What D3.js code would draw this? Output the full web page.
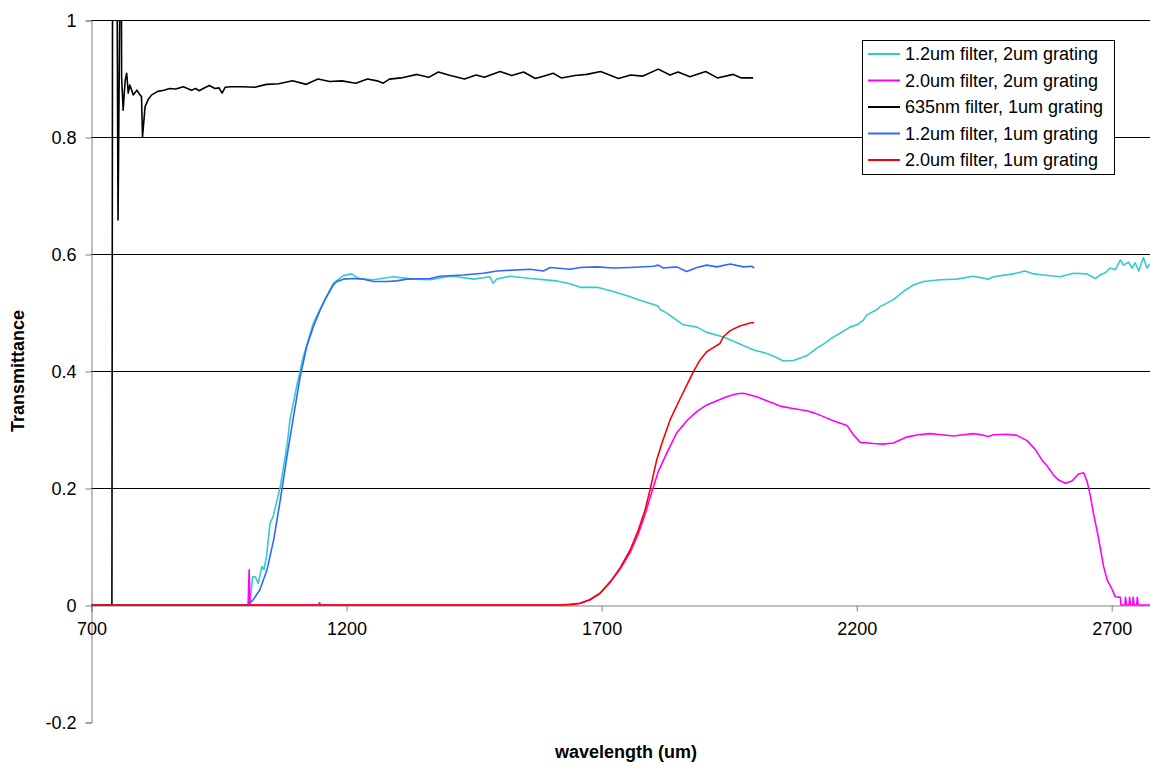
<!DOCTYPE html>
<html>
<head>
<meta charset="utf-8">
<script src="https://cdn.jsdelivr.net/npm/d3@7"></script>
<style>
  html, body { margin: 0; padding: 0; background: #fff; }
  svg { display: block; font-family: "Liberation Sans", Arial, sans-serif; }
</style>
</head>
<body>
<svg id="chart" width="1150" height="763"></svg>
<script>
// ---------- DATA ----------
const xTicks = [700, 1200, 1700, 2200, 2700];
const yTicks = [-0.2, 0, 0.2, 0.4, 0.6, 0.8, 1];
const yTickLabels = ["-0.2", "0", "0.2", "0.4", "0.6", "0.8", "1"];
const yGrid = [0.2, 0.4, 0.6, 0.8, 1];

const seriesNames = [
  "1.2um filter, 2um grating",
  "2.0um filter, 2um grating",
  "635nm filter, 1um grating",
  "1.2um filter, 1um grating",
  "2.0um filter, 1um grating"
];
const seriesColors = ["#33CCCC", "#FF00FF", "#000000", "#3366FF", "#FF0000"];

// 1.2um filter, 2um grating (cyan)
const cyanWl = [700, 1011, 1017, 1022, 1028, 1035, 1039, 1044, 1051, 1057, 1071, 1084, 1090, 1103, 1116, 1136, 1155, 1175, 1195, 1211, 1221, 1227, 1253, 1293, 1332, 1365, 1404, 1417, 1450, 1482, 1488, 1495, 1522, 1561, 1613, 1639, 1659, 1692, 1724, 1757, 1776, 1812, 1816, 1829, 1861, 1888, 1907, 1940, 1972, 1999, 2025, 2044, 2057, 2077, 2103, 2123, 2136, 2155, 2169, 2188, 2204, 2214, 2221, 2241, 2247, 2273, 2293, 2312, 2332, 2365, 2397, 2430, 2459, 2469, 2508, 2531, 2548, 2567, 2600, 2626, 2652, 2669, 2678, 2688, 2698, 2708, 2718, 2724, 2734, 2741, 2747, 2754, 2763, 2770, 2776];
const cyanT  = [0, 0, 0.048, 0.048, 0.037, 0.066, 0.060, 0.083, 0.140, 0.151, 0.202, 0.271, 0.316, 0.373, 0.424, 0.482, 0.516, 0.550, 0.563, 0.566, 0.560, 0.558, 0.556, 0.561, 0.557, 0.556, 0.562, 0.561, 0.557, 0.561, 0.550, 0.557, 0.562, 0.558, 0.554, 0.549, 0.543, 0.543, 0.536, 0.527, 0.521, 0.511, 0.505, 0.499, 0.479, 0.475, 0.466, 0.458, 0.446, 0.436, 0.430, 0.423, 0.417, 0.418, 0.426, 0.439, 0.446, 0.458, 0.465, 0.475, 0.480, 0.487, 0.496, 0.505, 0.510, 0.522, 0.536, 0.547, 0.553, 0.556, 0.557, 0.562, 0.557, 0.561, 0.566, 0.571, 0.566, 0.564, 0.561, 0.567, 0.566, 0.558, 0.564, 0.568, 0.576, 0.573, 0.590, 0.581, 0.586, 0.576, 0.585, 0.571, 0.594, 0.576, 0.583];

// 2.0um filter, 2um grating (magenta)
const magentaWl = [700, 1008, 1010, 1012, 1146, 1148, 1150, 1620, 1649, 1659, 1678, 1698, 1718, 1737, 1757, 1773, 1786, 1799, 1812, 1829, 1848, 1868, 1888, 1907, 1927, 1946, 1966, 1979, 2005, 2031, 2051, 2076, 2103, 2119, 2136, 2155, 2182, 2194, 2208, 2234, 2253, 2273, 2299, 2322, 2345, 2367, 2391, 2410, 2430, 2445, 2459, 2469, 2495, 2515, 2535, 2551, 2564, 2574, 2587, 2596, 2610, 2623, 2636, 2646, 2653, 2659, 2665, 2672, 2678, 2685, 2692, 2701, 2708, 2718, 2719, 2727, 2728, 2730, 2735, 2736, 2738, 2742, 2743, 2745, 2750, 2751, 2753, 2776];
const magentaT  = [0, 0, 0.060, 0, 0, 0.004, 0, 0, 0.001, 0.003, 0.009, 0.020, 0.039, 0.061, 0.090, 0.122, 0.155, 0.192, 0.228, 0.260, 0.294, 0.315, 0.331, 0.342, 0.349, 0.356, 0.361, 0.362, 0.356, 0.347, 0.340, 0.336, 0.332, 0.328, 0.322, 0.315, 0.307, 0.292, 0.278, 0.276, 0.275, 0.277, 0.287, 0.291, 0.293, 0.291, 0.289, 0.291, 0.293, 0.291, 0.288, 0.291, 0.292, 0.290, 0.281, 0.266, 0.248, 0.238, 0.222, 0.214, 0.208, 0.212, 0.224, 0.226, 0.210, 0.187, 0.157, 0.128, 0.100, 0.066, 0.043, 0.028, 0.014, 0.013, 0, 0, 0.013, 0, 0, 0.013, 0, 0, 0.013, 0, 0, 0.013, 0, 0];

// 635nm filter, 1um grating (black)
const blackWl = [700, 741, 742.5, 750, 753, 759, 760, 763, 767, 770, 773, 776, 783, 790, 796, 799, 801, 806, 812, 819, 831, 843, 854, 866, 874, 881, 889, 897, 905, 912, 920, 932, 943, 951, 957, 963, 974, 998, 1021, 1044, 1068, 1095, 1122, 1145, 1168, 1192, 1219, 1242, 1261, 1273, 1285, 1308, 1339, 1362, 1381, 1401, 1432, 1455, 1471, 1502, 1525, 1548, 1571, 1587, 1606, 1622, 1649, 1672, 1699, 1734, 1758, 1781, 1812, 1835, 1851, 1874, 1905, 1928, 1959, 1975, 1998];
const blackT  = [0, 0, 1.3, 1.3, 0.658, 1.3, 0.903, 0.846, 0.897, 0.909, 0.875, 0.889, 0.872, 0.880, 0.872, 0.869, 0.800, 0.852, 0.864, 0.872, 0.878, 0.880, 0.883, 0.882, 0.884, 0.886, 0.883, 0.880, 0.883, 0.879, 0.883, 0.888, 0.883, 0.884, 0.875, 0.885, 0.886, 0.886, 0.885, 0.890, 0.891, 0.896, 0.890, 0.899, 0.895, 0.896, 0.892, 0.899, 0.896, 0.892, 0.899, 0.901, 0.907, 0.902, 0.911, 0.906, 0.899, 0.906, 0.902, 0.912, 0.905, 0.911, 0.900, 0.904, 0.909, 0.901, 0.905, 0.907, 0.912, 0.900, 0.906, 0.904, 0.916, 0.906, 0.911, 0.903, 0.912, 0.901, 0.907, 0.901, 0.901];

// 1.2um filter, 1um grating (blue)
const blueWl = [700, 1008, 1018, 1031, 1045, 1058, 1071, 1084, 1097, 1110, 1123, 1136, 1149, 1162, 1175, 1182, 1195, 1214, 1234, 1254, 1280, 1299, 1319, 1365, 1384, 1430, 1469, 1496, 1561, 1587, 1600, 1639, 1659, 1692, 1724, 1757, 1803, 1812, 1822, 1848, 1868, 1888, 1907, 1927, 1953, 1979, 1996, 2000];
const blueT  = [0, 0, 0.009, 0.026, 0.060, 0.111, 0.179, 0.253, 0.322, 0.390, 0.442, 0.476, 0.504, 0.527, 0.547, 0.553, 0.557, 0.558, 0.557, 0.553, 0.553, 0.554, 0.557, 0.558, 0.562, 0.564, 0.567, 0.571, 0.574, 0.571, 0.577, 0.574, 0.577, 0.578, 0.576, 0.577, 0.579, 0.581, 0.576, 0.578, 0.570, 0.577, 0.581, 0.578, 0.583, 0.578, 0.579, 0.576];

// 2.0um filter, 1um grating (red)
const redWl = [700, 1620, 1639, 1659, 1678, 1698, 1718, 1737, 1757, 1773, 1786, 1796, 1803, 1809, 1819, 1835, 1855, 1868, 1881, 1894, 1907, 1920, 1933, 1940, 1953, 1972, 1992, 2000];
const redT  = [0, 0, 0.001, 0.003, 0.009, 0.020, 0.040, 0.063, 0.094, 0.128, 0.162, 0.197, 0.225, 0.248, 0.276, 0.316, 0.353, 0.376, 0.399, 0.419, 0.433, 0.440, 0.447, 0.459, 0.469, 0.477, 0.482, 0.483];

const seriesWl = [cyanWl, magentaWl, blackWl, blueWl, redWl];
const seriesT = [cyanT, magentaT, blackT, blueT, redT];

// ---------- LAYOUT ----------
const FONT = "'Liberation Sans', Arial, sans-serif";
const svg = d3.select("#chart");
const plot = { left: 91, right: 1150, top: 20, bottom: 722 };

const x = d3.scaleLinear().domain([700, 2776]).range([plot.left, plot.right]);
const y = d3.scaleLinear().domain([-0.2, 1]).range([plot.bottom, plot.top]);

svg.append("defs").append("clipPath").attr("id", "clip")
  .append("rect")
  .attr("x", plot.left).attr("y", plot.top)
  .attr("width", plot.right - plot.left).attr("height", plot.bottom - plot.top);

// gridlines
svg.append("g").selectAll("line").data(yGrid).join("line")
  .attr("x1", plot.left).attr("x2", plot.right)
  .attr("y1", d => Math.round(y(d)) + 0.5).attr("y2", d => Math.round(y(d)) + 0.5)
  .attr("stroke", "#000").attr("stroke-width", 1);

// y axis
const yAxis = d3.axisLeft(y).tickValues(yTicks)
  .tickFormat((d, i) => yTickLabels[i]).tickSize(6).tickPadding(9);
const gy = svg.append("g").attr("transform", `translate(${plot.left + 0.5},0.5)`).call(yAxis);
gy.select(".domain").attr("stroke", "#808080");
gy.selectAll(".tick line").attr("stroke", "#808080");
gy.selectAll(".tick text").attr("font-size", 18).attr("fill", "#000").attr("font-family", FONT);

// x axis at y=0
const xAxis = d3.axisBottom(x).tickValues(xTicks).tickFormat(d3.format("d")).tickSize(6).tickPadding(11);
const gx = svg.append("g").attr("transform", `translate(0.5,${Math.round(y(0)) + 0.5})`).call(xAxis);
gx.select(".domain").attr("stroke", "#808080");
gx.selectAll(".tick line").attr("stroke", "#808080");
gx.selectAll(".tick text").attr("font-size", 18).attr("fill", "#000").attr("font-family", FONT);

// series
const line = d3.line().x(d => x(d[0])).y(d => y(d[1]));
const gl = svg.append("g").attr("clip-path", "url(#clip)");
seriesWl.forEach((wl, i) => {
  const pts = wl.map((w, j) => [w, seriesT[i][j]]);
  gl.append("path").datum(pts)
    .attr("d", line)
    .attr("fill", "none")
    .attr("stroke", seriesColors[i])
    .attr("stroke-width", 1.6)
    .attr("stroke-linejoin", "round");
});

// axis titles
svg.append("text")
  .attr("transform", `translate(24,${(plot.top + plot.bottom) / 2}) rotate(-90)`)
  .attr("text-anchor", "middle")
  .attr("font-size", 18).attr("font-weight", "bold").attr("font-family", FONT)
  .text("Transmittance");
svg.append("text")
  .attr("x", 626).attr("y", 758)
  .attr("text-anchor", "middle")
  .attr("font-size", 18).attr("font-weight", "bold").attr("font-family", FONT)
  .text("wavelength (um)");

// legend
const lg = svg.append("g");
lg.append("rect")
  .attr("x", 862.5).attr("y", 40.5).attr("width", 252).attr("height", 134)
  .attr("fill", "#fff").attr("stroke", "#000").attr("stroke-width", 1);
seriesNames.forEach((name, i) => {
  const cy = 54 + i * 26.5;
  lg.append("line")
    .attr("x1", 868).attr("x2", 900).attr("y1", cy).attr("y2", cy)
    .attr("stroke", seriesColors[i]).attr("stroke-width", 2);
  lg.append("text")
    .attr("x", 905).attr("y", cy + 6)
    .attr("font-size", 18).attr("font-family", FONT)
    .text(name);
});
</script>
</body>
</html>
